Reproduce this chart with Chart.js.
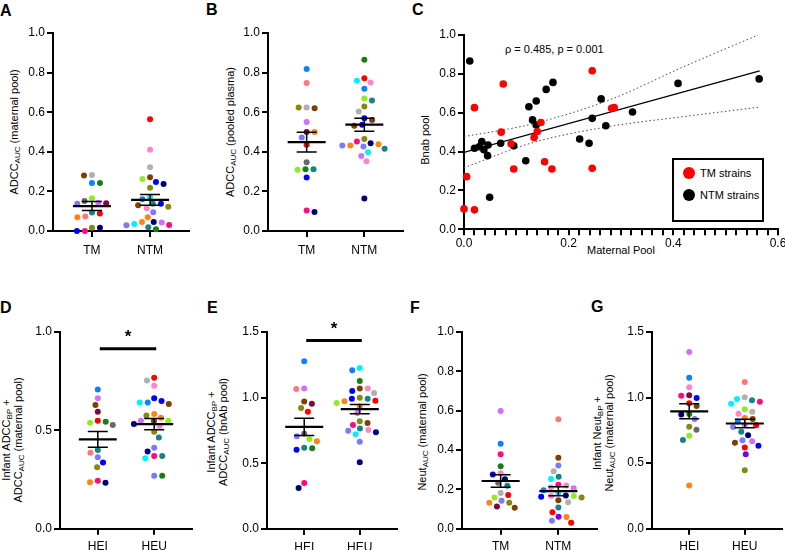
<!DOCTYPE html>
<html><head><meta charset="utf-8">
<script src="https://cdn.jsdelivr.net/npm/chart.js@4.4.1/dist/chart.umd.min.js"></script>
<style>
html,body{margin:0;padding:0;background:#fff;}
#wrap{position:relative;width:785px;height:550px;overflow:hidden;background:#fff;font-family:"Liberation Sans",Arial,sans-serif;color:#000;}
canvas{position:absolute;}
.lbl{position:absolute;font-weight:bold;font-size:16px;line-height:16px;}
.yt{position:absolute;font-size:11px;line-height:12px;white-space:nowrap;text-align:center;transform:translate(-50%,-50%) rotate(-90deg);}
.s{font-size:8px;line-height:0;vertical-align:-2px;}
.txt{position:absolute;font-size:11px;line-height:12px;white-space:nowrap;}
.legend{position:absolute;border:2px solid #000;box-sizing:border-box;background:#fff;}
.li{position:absolute;font-size:11px;line-height:12px;white-space:nowrap;}
.dot{position:absolute;border-radius:50%;}
</style></head><body>
<div id="wrap">
  <div class="lbl" style="left:0px;top:2.5px">A</div>
  <div class="lbl" style="left:206px;top:1.5px">B</div>
  <div class="lbl" style="left:412px;top:1.5px">C</div>
  <div class="lbl" style="left:0px;top:300px">D</div>
  <div class="lbl" style="left:207px;top:300px">E</div>
  <div class="lbl" style="left:410px;top:300px">F</div>
  <div class="lbl" style="left:591px;top:299px">G</div>

  <div class="yt" style="left:14px;top:132px">ADCC<span class="s">AUC</span> (maternal pool)</div>
  <div class="yt" style="left:230px;top:132px">ADCC<span class="s">AUC</span> (pooled plasma)</div>
  <div class="yt" style="left:425px;top:140px">Bnab pool</div>
  <div class="yt" style="left:12px;top:440px">Infant ADCC<span class="s">BP</span> +<br>ADCC<span class="s">AUC</span> (maternal pool)</div>
  <div class="yt" style="left:217px;top:432px">Infant ADCC<span class="s">BP</span> +<br>ADCC<span class="s">AUC</span> (bnAb pool)</div>
  <div class="yt" style="left:422px;top:432px">Neut<span class="s">AUC</span> (maternal pool)</div>
  <div class="yt" style="left:603px;top:433px">Infant Neut<span class="s">BP</span> +<br>Neut<span class="s">AUC</span> (maternal pool)</div>
  <div class="txt" id="cxTitle" style="left:621px;top:250px;transform:translate(-50%,-50%)">Maternal Pool</div>
  <div class="txt" id="cStat" style="left:505px;top:43px"></div>
</div>
<script>
// ---------------- DATA ----------------
const catsStrain = ['TM', 'NTM'];
const catsInfant = ['HEI', 'HEU'];

// Panel A: ADCC AUC (maternal pool)
const aTM = [0.283,0.280,0.243,0.243,0.165,0.152,0.143,0.140,0.137,0.089,0.093,0.069,0.073,0.000,0.017,0.000,0.017];
const aTMStrain = ['grey','brown','dblue','green','lime','dgrey','violet','maroon','slate','red','teal','orange','salmon','magenta','olive','blue','navy'];
const aNTM = [0.565,0.410,0.322,0.272,0.262,0.248,0.238,0.219,0.170,0.160,0.137,0.123,0.130,0.137,0.115,0.095,0.069,0.045,0.045,0.043,0.035,0.030,0.029,0.019,0.009];
const aNTMStrain = ['red','pink','grey','brown','lime','blue','navy','olive','cyan','dblue','teal','olive','brown','blue','pink','slate','orange','navy','orange','violet','cyan','magenta','slate','teal','green'];

// Panel B: ADCC AUC (pooled plasma)
const bTM = [0.818,0.747,0.620,0.624,0.624,0.550,0.500,0.500,0.472,0.435,0.347,0.312,0.312,0.309,0.270,0.096,0.103];
const bTMStrain = ['dblue','salmon','brown','grey','olive','violet','maroon','orange','slate','red','dgrey','green','teal','lime','blue','navy','magenta'];
const bNTM = [0.865,0.772,0.759,0.750,0.718,0.669,0.659,0.629,0.604,0.570,0.561,0.536,0.531,0.465,0.438,0.432,0.427,0.432,0.452,0.443,0.415,0.398,0.379,0.352,0.164];
const bNTMStrain = ['green','red','cyan','pink','dblue','lime','teal','olive','grey','blue','brown','blue','brown','olive','orange','orange','slate','slate','magenta','navy','teal','cyan','violet','pink','navy'];

// Panel C: Bnab pool vs Maternal Pool
const cTMx = [0.000,0.005,0.020,0.020,0.075,0.071,0.090,0.095,0.134,0.140,0.147,0.154,0.168,0.245,0.245,0.282,0.287];
const cTMy = [0.105,0.271,0.100,0.626,0.748,0.500,0.440,0.310,0.472,0.503,0.550,0.348,0.310,0.816,0.314,0.623,0.626];
const cNTMx = [0.011,0.020,0.029,0.034,0.038,0.046,0.045,0.049,0.070,0.095,0.118,0.124,0.131,0.138,0.138,0.157,0.170,0.221,0.239,0.245,0.262,0.271,0.322,0.409,0.564];
const cNTMy = [0.866,0.417,0.425,0.451,0.410,0.434,0.379,0.165,0.443,0.430,0.353,0.631,0.563,0.660,0.537,0.720,0.756,0.465,0.443,0.571,0.671,0.533,0.604,0.751,0.774];
const cFitX = [0.000, 0.565];
const cFitY = [0.396, 0.815];
const cUpperX = [0.000, 0.130, 0.280, 0.420, 0.562];
const cUpperY = [0.477, 0.542, 0.668, 0.837, 1.000];
const cLowerX = [0.000, 0.130, 0.280, 0.420, 0.562];
const cLowerY = [0.317, 0.445, 0.530, 0.580, 0.628];
const cSeriesNames = ['TM strains', 'NTM strains'];
const cStatText = 'ρ = 0.485, p = 0.001';

// Panel D: Infant ADCC BP + ADCC AUC (maternal pool)
const dHEI = [0.708,0.663,0.629,0.595,0.549,0.544,0.539,0.527,0.400,0.386,0.363,0.336,0.312,0.234,0.244,0.236];
const dHEIStrain = ['dblue','violet','brown','maroon','red','green','lime','dgrey','teal','salmon','slate','blue','olive','navy','magenta','orange'];
const dHEU = [0.768,0.753,0.727,0.663,0.642,0.649,0.634,0.641,0.583,0.564,0.575,0.549,0.549,0.547,0.522,0.532,0.493,0.464,0.412,0.392,0.369,0.358,0.369,0.269,0.269];
const dHEUStrain = ['red','grey','pink','blue','dblue','blue','brown','cyan','orange','orange','olive','violet','lime','brown','pink','navy','olive','teal','slate','navy','magenta','cyan','teal','slate','green'];
const dSigLevel = 0.915;

// Panel E: Infant ADCC BP + ADCC AUC (bnAb pool)
const eHEI = [1.277,1.066,1.069,0.970,0.954,0.921,0.893,0.726,0.706,0.668,0.685,0.614,0.619,0.604,0.350,0.312];
const eHEIStrain = ['dblue','salmon','violet','brown','maroon','olive','red','dgrey','slate','orange','lime','green','teal','blue','magenta','navy'];
const eHEU = [1.208,1.226,1.127,1.051,1.069,1.069,1.036,0.992,0.992,0.972,0.977,0.959,1.000,0.934,0.883,0.820,0.792,0.807,0.766,0.736,0.749,0.754,0.721,0.665,0.508];
const eHEUStrain = ['dblue','cyan','green','blue','brown','pink','grey','blue','teal','orange','red','lime','olive','orange','violet','olive','magenta','brown','teal','navy','slate','pink','cyan','slate','navy'];
const eSigLevel = 1.435;

// Panel F: Neut AUC (maternal pool)
const fTM = [0.598,0.432,0.378,0.318,0.275,0.282,0.252,0.218,0.233,0.182,0.171,0.159,0.142,0.132,0.132,0.106,0.113];
const fTMStrain = ['violet','dblue','magenta','green','blue','pink','navy','teal','dgrey','grey','red','lime','slate','olive','orange','brown','maroon'];
const fNTM = [0.556,0.361,0.321,0.292,0.264,0.253,0.223,0.206,0.220,0.196,0.169,0.162,0.166,0.166,0.159,0.145,0.135,0.182,0.108,0.084,0.061,0.059,0.030,0.041,0.210];
const fNTMStrain = ['salmon','brown','slate','grey','teal','cyan','magenta','violet','pink','dblue','navy','blue','pink','lime','olive','brown','grey','cyan','teal','red','purple','orange','red','slate','pink'];

// Panel G: Infant Neut BP + Neut AUC (maternal pool)
const gHEI = [1.348,1.152,1.078,1.017,1.014,0.997,0.956,0.936,0.875,0.870,0.836,0.778,0.755,0.709,0.676,0.330];
const gHEIStrain = ['violet','dblue','pink','maroon','magenta','blue','red','brown','green','navy','slate','olive','dgrey','lime','teal','orange'];
const gHEU = [1.119,1.002,0.989,0.979,0.969,0.953,0.910,0.892,0.877,0.836,0.844,0.818,0.775,0.788,0.788,0.740,0.712,0.666,0.674,0.656,0.633,0.620,0.567,0.445];
const gHEUStrain = ['salmon','grey','cyan','teal','magenta','cyan','lime','grey','pink','brown','orange','dblue','slate','violet','red','teal','navy','violet','slate','brown','blue','red','purple','olive'];

// ---------------- STYLE ----------------
const strainPalette = {
  red:'#FF0000', blue:'#0000FF', navy:'#00007A', dblue:'#1080FF', cyan:'#00F0FF',
  green:'#168016', lime:'#8CEE22', olive:'#878714', teal:'#138585', grey:'#B0B0B0',
  dgrey:'#686868', brown:'#7F3F00', orange:'#FF8414', salmon:'#FF7878', magenta:'#FF0A80',
  pink:'#FF84CC', violet:'#D070FF', slate:'#7A7AFF', maroon:'#800838', purple:'#7A00E8'
};
const FONT = {family:'"Liberation Sans", Arial, sans-serif', size:12};

// ---------------- PLUGINS ----------------
const swarmPlugin = {
  id:'swarm',
  afterDatasetsUpdate(chart, args, opts){
    if(!opts || !opts.enabled) return;
    const xs = chart.scales.x;
    chart.data.datasets.forEach((ds, di) => {
      const meta = chart.getDatasetMeta(di);
      const cx = xs.getPixelForValue(ds.data[0].x);
      const pts = meta.data.map((el, i) => ({el, i, y: el.y}));
      pts.sort((a, b) => (a.y - b.y) || (a.i - b.i));
      const placed = [];
      let flip = false;
      pts.forEach(p => {
        const blocks = [];
        const cands = [0];
        placed.forEach(q => {
          const dy = Math.abs(q.y - p.y);
          if (dy < opts.dy) {
            const half = opts.dx * Math.sqrt(1 - (dy / opts.dy) ** 2);
            blocks.push([q.off - half, q.off + half]);
            cands.push(q.off - half, q.off + half);
          }
        });
        const ok = c => blocks.every(b => c <= b[0] + 1e-6 || c >= b[1] - 1e-6);
        const valid = cands.filter(ok);
        let minAbs = Math.min(...valid.map(Math.abs));
        const best = valid.filter(c => Math.abs(Math.abs(c) - minAbs) < 1e-6);
        let off;
        if (best.length > 1 && best.some(c => c < 0) && best.some(c => c > 0)) {
          off = flip ? Math.max(...best) : Math.min(...best);
          flip = !flip;
        } else off = best[0];
        p.off = off;
        placed.push(p);
        p.el.x = cx + off;
      });
    });
  }
};

const meanSemPlugin = {
  id:'meanSem',
  afterDatasetsDraw(chart, args, opts){
    if(!opts || !opts.enabled) return;
    const {ctx, scales:{x, y}} = chart;
    ctx.save();
    ctx.strokeStyle = '#000';
    chart.data.datasets.forEach(ds => {
      const vals = ds.data.map(d => d.y);
      const n = vals.length;
      const m = vals.reduce((a, b) => a + b, 0) / n;
      const sd = Math.sqrt(vals.reduce((a, b) => a + (b - m) ** 2, 0) / (n - 1));
      const se = sd / Math.sqrt(n);
      const cx = x.getPixelForValue(ds.data[0].x);
      const ym = y.getPixelForValue(m), yt = y.getPixelForValue(m + se), yb = y.getPixelForValue(m - se);
      ctx.lineWidth = 1.5;
      ctx.beginPath();
      ctx.moveTo(cx, yt); ctx.lineTo(cx, yb);
      ctx.moveTo(cx - 10, yt); ctx.lineTo(cx + 10, yt);
      ctx.moveTo(cx - 10, yb); ctx.lineTo(cx + 10, yb);
      ctx.stroke();
      ctx.lineWidth = 2.2;
      ctx.beginPath();
      ctx.moveTo(cx - 19, ym); ctx.lineTo(cx + 19, ym);
      ctx.stroke();
    });
    ctx.restore();
  }
};

const sigPlugin = {
  id:'sig',
  afterDatasetsDraw(chart, args, opts){
    if(!opts || opts.level == null) return;
    const {ctx, scales:{x, y}} = chart;
    const yy = y.getPixelForValue(opts.level);
    const x1 = x.getPixelForValue(1) + 2, x2 = x.getPixelForValue(2) + 2;
    ctx.save();
    ctx.strokeStyle = '#000'; ctx.lineWidth = 3;
    ctx.beginPath(); ctx.moveTo(x1, yy); ctx.lineTo(x2, yy); ctx.stroke();
    ctx.fillStyle = '#000';
    ctx.font = 'bold 17px "Liberation Sans", Arial, sans-serif';
    ctx.textAlign = 'center'; ctx.textBaseline = 'alphabetic';
    const mt = ctx.measureText(opts.text);
    const cy = yy - 15;
    ctx.fillText(opts.text, (x1 + x2) / 2, cy + (mt.actualBoundingBoxAscent - mt.actualBoundingBoxDescent) / 2);
    ctx.restore();
  }
};

// ---------------- BUILD ----------------
const wrap = document.getElementById('wrap');
function makeCanvas(rect){
  const c = document.createElement('canvas');
  c.width = rect[2]; c.height = rect[3];
  c.style.left = rect[0] + 'px'; c.style.top = rect[1] + 'px';
  c.style.width = rect[2] + 'px'; c.style.height = rect[3] + 'px';
  wrap.appendChild(c);
  return c;
}
function axisStyle(){
  return {
    grid:{display:true, drawOnChartArea:false, drawTicks:true, tickLength:6, color:'#000', lineWidth:2},
    border:{display:true, color:'#000', width:2}
  };
}

function dotPanel(p){
  const cv = makeCanvas(p.rect);
  new Chart(cv, {
    type:'scatter',
    data:{datasets: p.groups.map((g, gi) => ({
      label: p.cats[gi],
      data: g[0].map(v => ({x: gi + 1, y: v})),
      backgroundColor: g[1].map(s => strainPalette[s]),
      borderWidth:0, pointRadius:3, pointHoverRadius:3, clip:false
    }))},
    options:{
      responsive:false, animation:false, events:[],
      layout:{padding:{left:0, top:p.padTop, right:p.padRight, bottom:0}},
      plugins:{
        legend:{display:false}, tooltip:{enabled:false},
        swarm:{enabled:true, dx:8, dy:7},
        meanSem:{enabled:true},
        sig: p.sig ? {level:p.sig, text:'*'} : false
      },
      scales:{
        x:Object.assign({
          type:'linear', min:0.33, max:2.67,
          afterBuildTicks: s => { s.ticks = p.cats.map((c, i) => ({value: i + 1})); },
          afterFit: s => { s.height = p.xH; },
          ticks:{callback: v => p.cats[Math.round(v) - 1] || '', font:FONT, color:'#000', padding:p.xPad, maxRotation:0, autoSkip:false}
        }, axisStyle()),
        y:Object.assign({
          type:'linear', min:0, max:p.yMax,
          afterFit: s => { s.width = p.yW; },
          ticks:{stepSize:p.yStep, callback: v => v.toFixed(1), font:FONT, color:'#000', padding:2}
        }, axisStyle())
      }
    },
    plugins:[swarmPlugin, meanSemPlugin, sigPlugin]
  });
}

dotPanel({rect:[0,0,195,262], yW:53, padTop:33, padRight:6, xH:31, xPad:6, cats:catsStrain,
  groups:[[aTM,aTMStrain],[aNTM,aNTMStrain]], yMax:1, yStep:0.2});
dotPanel({rect:[200,0,206,262], yW:68, padTop:33, padRight:3, xH:31, xPad:6, cats:catsStrain,
  groups:[[bTM,bTMStrain],[bNTM,bNTMStrain]], yMax:1, yStep:0.2});
dotPanel({rect:[0,290,197,260], yW:60, padTop:42, padRight:5, xH:21.3, xPad:5, cats:catsInfant,
  groups:[[dHEI,dHEIStrain],[dHEU,dHEUStrain]], yMax:1, yStep:0.5, sig:dSigLevel});
dotPanel({rect:[200,290,200,260], yW:67, padTop:42, padRight:2, xH:21, xPad:5, cats:catsInfant,
  groups:[[eHEI,eHEIStrain],[eHEU,eHEUStrain]], yMax:1.5, yStep:0.5, sig:eSigLevel});
dotPanel({rect:[400,290,200,260], yW:62, padTop:42, padRight:2, xH:21.3, xPad:5, cats:catsStrain,
  groups:[[fTM,fTMStrain],[fNTM,fNTMStrain]], yMax:1, yStep:0.2});
dotPanel({rect:[600,290,185,260], yW:52, padTop:42, padRight:0, xH:21.3, xPad:5, cats:catsInfant,
  groups:[[gHEI,gHEIStrain],[gHEU,gHEUStrain]], yMax:1.5, yStep:0.5});

// Panel C
const zip = (xs, ys) => xs.map((x, i) => ({x, y: ys[i]}));
const cColors = ['#FF0000', '#000000'];
const cCanvas = makeCanvas([400,0,390,262]);
const cChart = new Chart(cCanvas, {
  type:'scatter',
  data:{datasets:[
    {label:cSeriesNames[0], data:zip(cTMx, cTMy), backgroundColor:cColors[0], borderWidth:0, pointRadius:3.8, clip:false},
    {label:cSeriesNames[1], data:zip(cNTMx, cNTMy), backgroundColor:cColors[1], borderWidth:0, pointRadius:3.8, clip:false},
    {type:'line', label:'fit', data:zip(cFitX, cFitY), borderColor:'#000', borderWidth:1.3, pointRadius:0, fill:false},
    {type:'line', label:'upper', data:zip(cUpperX, cUpperY), borderColor:'#444', borderWidth:1, borderDash:[1.5,2.5], pointRadius:0, fill:false, cubicInterpolationMode:'monotone'},
    {type:'line', label:'lower', data:zip(cLowerX, cLowerY), borderColor:'#444', borderWidth:1, borderDash:[1.5,2.5], pointRadius:0, fill:false, cubicInterpolationMode:'monotone'}
  ]},
  options:{
    responsive:false, animation:false, events:[],
    layout:{padding:{left:0, top:35, right:12, bottom:0}},
    plugins:{legend:{display:false}, tooltip:{enabled:false}},
    scales:{
      x:Object.assign({
        type:'linear', min:0, max:0.6,
        afterFit: s => { s.height = 32.7; },
        ticks:{stepSize:0.02, autoSkip:false, maxRotation:0, font:FONT, color:'#000', padding:1,
          callback: v => Math.abs(v / 0.2 - Math.round(v / 0.2)) < 1e-6 ? v.toFixed(1) : ''}
      }, axisStyle()),
      y:Object.assign({
        type:'linear', min:0, max:1,
        afterFit: s => { s.width = 64; },
        ticks:{stepSize:0.2, font:FONT, color:'#000', padding:2, callback: v => v.toFixed(1)}
      }, axisStyle())
    }
  }
});

document.getElementById('cStat').textContent = cStatText;

// Legend for panel C built from the dataset labels/colours
const lg = document.createElement('div');
lg.className = 'legend';
lg.style.cssText = 'left:672px;top:158px;width:92px;height:64px;';
wrap.appendChild(lg);
[0, 1].forEach(i => {
  const ds = cChart.data.datasets[i];
  const dot = document.createElement('div');
  dot.className = 'dot';
  dot.style.cssText = `left:${8.5}px;top:${13 + i * 22 - 6}px;width:12px;height:12px;background:${ds.backgroundColor};`;
  lg.appendChild(dot);
  const t = document.createElement('div');
  t.className = 'li';
  t.style.cssText = `left:26px;top:${13 + i * 22 - 6}px;`;
  t.textContent = ds.label;
  lg.appendChild(t);
});
</script>
</body></html>
